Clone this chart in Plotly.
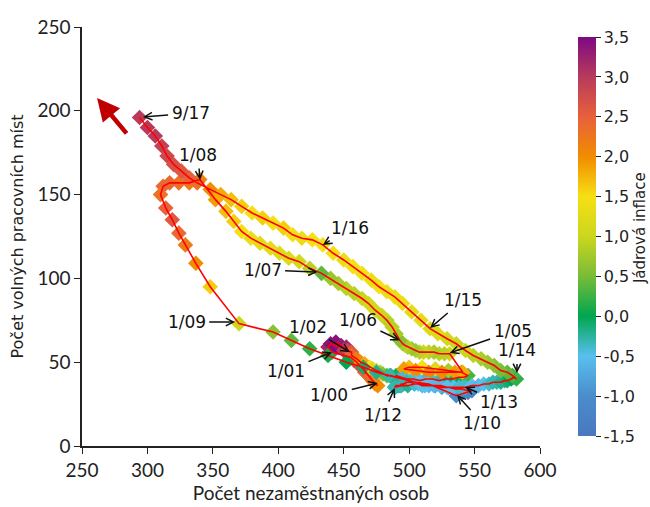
import plotly.graph_objects as go

# Monthly data 1/2000 - 9/2017 (thousands): unemployed, vacancies, core inflation
unemployed = [
    # 2000
    474, 476, 472, 470, 468, 466, 468, 465, 462, 460, 458, 455,
    # 2001
    441, 438, 440, 443, 446, 444, 448, 450, 452, 450, 453, 456,
    # 2002
    456, 460, 463, 466, 470, 472, 475, 478, 480, 483, 486, 490,
    # 2003
    490, 494, 498, 503, 508, 513, 518, 523, 528, 533, 538, 542,
    # 2004
    545, 540, 530, 520, 510, 500, 496, 505, 515, 525, 535, 541,
    # 2005
    531, 527, 523, 519, 515, 511, 508, 505, 502, 499, 497, 495,
    # 2006
    493, 490, 487, 483, 479, 474, 469, 464, 458, 452, 446, 440,
    # 2007
    433, 424, 416, 408, 401, 394, 386, 379, 372, 366, 360, 352,
    # 2008
    340, 332, 324, 317, 312, 310, 314, 319, 324, 329, 337, 348,
    # 2009
    370, 396, 410, 424, 438, 452, 465, 475, 485, 495, 505, 515,
    # 2010
    536, 540, 545, 548, 545, 540, 535, 530, 525, 520, 515, 512,
    # 2011
    510, 507, 504, 501, 498, 496, 494, 493, 492, 491, 490, 489,
    # 2012
    489, 494, 499, 504, 509, 514, 519, 524, 529, 534, 538, 541,
    # 2013
    543, 548, 553, 557, 561, 564, 567, 570, 573, 575, 578, 580,
    # 2014
    582, 579, 575, 570, 565, 560, 555, 549, 543, 536, 529, 522,
    # 2015
    516, 509, 502, 495, 489, 483, 477, 471, 464, 457, 450, 442,
    # 2016
    434, 426, 418, 411, 404, 396, 388, 380, 372, 364, 356, 348,
    # 2017 (Jan-Sep)
    338, 332, 326, 320, 315, 311, 306, 300, 294,
]

vacancies = [
    37, 36, 39, 41, 43, 44, 43, 46, 48, 50, 51, 53,
    56, 59, 61, 60, 59, 62, 60, 58, 59, 57, 57, 56,
    54, 52, 50, 49, 47, 46, 45, 44, 43, 42, 42, 41,
    42, 41, 40, 40, 39, 40, 40, 39, 40, 40, 41, 41,
    42, 44, 45, 46, 47, 47, 46, 45, 44, 44, 44, 44,
    55, 55, 55, 56, 56, 56, 56, 57, 58, 59, 60, 61,
    63, 67, 71, 75, 78, 81, 85, 88, 91, 94, 97, 100,
    103, 106, 110, 112, 115, 118, 121, 124, 128, 134, 140, 147,
    159, 157, 157, 157, 155, 150, 142, 135, 127, 120, 109, 95,
    73, 68, 63, 58, 54, 50, 47, 44, 42, 40, 38, 37,
    30, 31, 32, 33, 33, 34, 34, 35, 35, 36, 36, 36,
    36, 37, 37, 38, 38, 37, 37, 36, 36, 36, 36, 35,
    35, 36, 36, 37, 37, 37, 36, 36, 35, 35, 35, 35,
    35, 36, 36, 37, 37, 38, 38, 38, 39, 39, 40, 41,
    40, 42, 44, 45, 48, 50, 52, 54, 57, 61, 64, 67,
    70, 75, 80, 85, 89, 92, 95, 99, 103, 107, 111, 115,
    120, 123, 124, 126, 130, 133, 136, 139, 143, 147, 150, 153,
    157, 160, 164, 168, 173, 179, 185, 190, 196,
]

core_inflation = [
    2.0, 2.0, 2.1, 2.2, 2.3, 2.4, 2.4, 2.5, 2.6, 2.7, 2.8, 2.9,
    3.0, 3.2, 3.4, 3.5, 3.5, 3.4, 3.3, 3.4, 3.2, 3.0, 2.8, 2.6,
    2.4, 2.2, 2.0, 1.8, 1.5, 1.2, 1.0, 0.8, 0.6, 0.4, 0.2, 0.0,
    -0.1, -0.3, -0.4, -0.5, -0.5, -0.4, -0.4, -0.3, -0.2, -0.1, 0.0, 0.1,
    0.3, 0.5, 0.8, 1.2, 1.5, 1.7, 1.9, 2.0, 2.1, 2.0, 1.9, 1.8,
    1.0, 0.9, 0.9, 0.8, 0.9, 1.0, 0.9, 0.8, 0.7, 0.8, 0.9, 0.8,
    0.6, 0.8, 0.9, 0.9, 1.0, 1.1, 1.1, 1.0, 0.9, 0.9, 0.8, 0.7,
    0.4, 0.9, 1.1, 1.2, 1.2, 1.3, 1.3, 1.4, 1.5, 1.6, 1.7, 1.9,
    2.1, 2.2, 2.3, 2.4, 2.4, 2.3, 2.5, 2.6, 2.4, 2.2, 2.0, 1.6,
    1.0, 0.6, 0.4, 0.2, 0.1, 0.0, -0.1, -0.2, -0.3, -0.4, -0.5, -0.6,
    -1.0, -1.1, -1.2, -1.3, -1.2, -1.1, -1.0, -0.9, -0.8, -0.7, -0.6, -0.5,
    -0.5, -0.5, -0.4, -0.4, -0.3, -0.3, -0.3, -0.2, -0.3, -0.3, -0.2, -0.2,
    -0.3, -0.3, -0.2, -0.4, -0.5, -0.5, -0.6, -0.6, -0.5, -0.5, -0.4, -0.4,
    -0.4, -0.5, -0.6, -0.5, -0.4, -0.3, -0.3, -0.2, -0.2, -0.1, 0.0, 0.1,
    0.2, 0.3, 0.4, 0.5, 0.6, 0.7, 0.8, 0.9, 1.0, 1.0, 1.1, 1.2,
    1.2, 1.3, 1.3, 1.4, 1.4, 1.4, 1.5, 1.4, 1.5, 1.5, 1.4, 1.5,
    1.5, 1.5, 1.4, 1.5, 1.6, 1.5, 1.6, 1.5, 1.6, 1.7, 1.8, 2.0,
    2.3, 2.5, 2.6, 2.7, 2.8, 2.9, 3.0, 3.0, 3.0,
]

# Labelled months: label, point (x, y), label position (x, y)
label_text = ["9/17", "1/08", "1/16", "1/07", "1/09", "1/02", "1/01", "1/06",
              "1/15", "1/05", "1/14", "1/00", "1/12", "1/13", "1/10"]
label_px = [296.6, 340.2, 434, 430, 367, 454.8, 441, 493, 516, 531, 582.4, 476, 489, 542.7, 536.6]
label_py = [196.3, 158.7, 120, 103.8, 74, 56, 56, 63, 70.4, 55.5, 43.6, 37.6, 34.6, 35.2, 30.4]
label_tx = [333, 338.6, 455, 388, 330, 423, 406, 461, 541, 579, 582.4, 439, 480, 569, 556]
label_ty = [198.7, 173.6, 130, 105, 74, 71, 45, 75, 87, 68.5, 57.0, 30.4, 18.5, 26.3, 13.7]

x_ticks = [250, 300, 350, 400, 450, 500, 550, 600]
y_ticks = [0, 50, 100, 150, 200, 250]
cb_ticks = [-1.5, -1.0, -0.5, 0.0, 0.5, 1.0, 1.5, 2.0, 2.5, 3.0, 3.5]
cb_ticktext = ["-1,5", "-1,0", "-0,5", "0,0", "0,5", "1,0", "1,5", "2,0", "2,5", "3,0", "3,5"]

colorscale = [
    [0.0, "#4878be"], [0.1, "#4a8dcc"], [0.2, "#58c0ee"], [0.3, "#00a650"],
    [0.4, "#78bc38"], [0.5, "#ccd61e"], [0.6, "#f6df14"], [0.7, "#f28c00"],
    [0.8, "#e8603c"], [0.9, "#b83a5c"], [1.0, "#7c0a82"],
]

fig = go.Figure()
fig.add_trace(go.Scatter(
    x=unemployed, y=vacancies, mode="markers",
    marker=dict(
        symbol="diamond", size=12, color=core_inflation,
        colorscale=colorscale, cmin=-1.5, cmax=3.5,
        line=dict(width=0),
        colorbar=dict(
            x=1.061, xanchor="left", y=0.5, yanchor="middle", len=1.0,
            lenmode="fraction", thickness=18, outlinewidth=0,
            tickvals=cb_ticks, ticktext=cb_ticktext,
            ticks="outside", ticklen=5, tickcolor="#222",
            tickfont=dict(family="DejaVu Sans", size=16, color="#222"),
        ),
    ),
    showlegend=False, hoverinfo="skip",
))
fig.add_trace(go.Scatter(
    x=unemployed, y=vacancies, mode="lines",
    line=dict(color="#ff0000", width=1.6),
    showlegend=False, hoverinfo="skip",
))

annotations = []
for t, px, py, tx, ty in zip(label_text, label_px, label_py, label_tx, label_ty):
    annotations.append(dict(
        x=px, y=py, ax=tx, ay=ty, xref="x", yref="y", axref="x", ayref="y",
        text=t, showarrow=True, arrowhead=5, arrowsize=1.0, arrowwidth=1.5,
        arrowcolor="#111", font=dict(family="DejaVu Sans", size=17, color="#111"),
        standoff=0, startstandoff=2,
    ))
# big red direction arrow
annotations.append(dict(
    x=261.5, y=207.6, ax=285, ay=185.6, xref="x", yref="y", axref="x", ayref="y",
    text="", showarrow=True, arrowhead=2, arrowsize=1.0, arrowwidth=4.5,
    arrowcolor="#c00000",
))
# colorbar title
annotations.append(dict(
    x=1.2183, y=0.52, xref="paper", yref="paper", xanchor="center", yanchor="middle",
    text="Jádrová inflace", textangle=-90, showarrow=False,
    font=dict(family="DejaVu Sans", size=15, color="#222"),
))

fig.update_layout(
    width=650, height=507,
    margin=dict(l=82, r=110, t=27, b=61, autoexpand=False),
    paper_bgcolor="white", plot_bgcolor="white",
    separators=", ",
    annotations=annotations,
    xaxis=dict(
        range=[250, 600], tickvals=x_ticks, showgrid=False, zeroline=False,
        showline=True, linecolor="#222", linewidth=1.5,
        ticks="outside", ticklen=6, tickcolor="#222",
        tickfont=dict(family="Lato", size=19, color="#222"),
        title=dict(text="Počet nezaměstnaných osob", standoff=4,
                   font=dict(family="Lato", size=19, color="#222")),
    ),
    yaxis=dict(
        range=[0, 250], tickvals=y_ticks, showgrid=False, zeroline=False,
        showline=True, linecolor="#222", linewidth=1.5,
        ticks="outside", ticklen=6, tickcolor="#222",
        tickfont=dict(family="Lato", size=19, color="#222"),
        title=dict(text="Počet volných pracovních míst", standoff=10,
                   font=dict(family="DejaVu Sans", size=16, color="#222")),
    ),
)

fig.write_html("out.html", config={"displayModeBar": False},
               post_script="document.body.style.margin='0';document.body.style.padding='0';")
